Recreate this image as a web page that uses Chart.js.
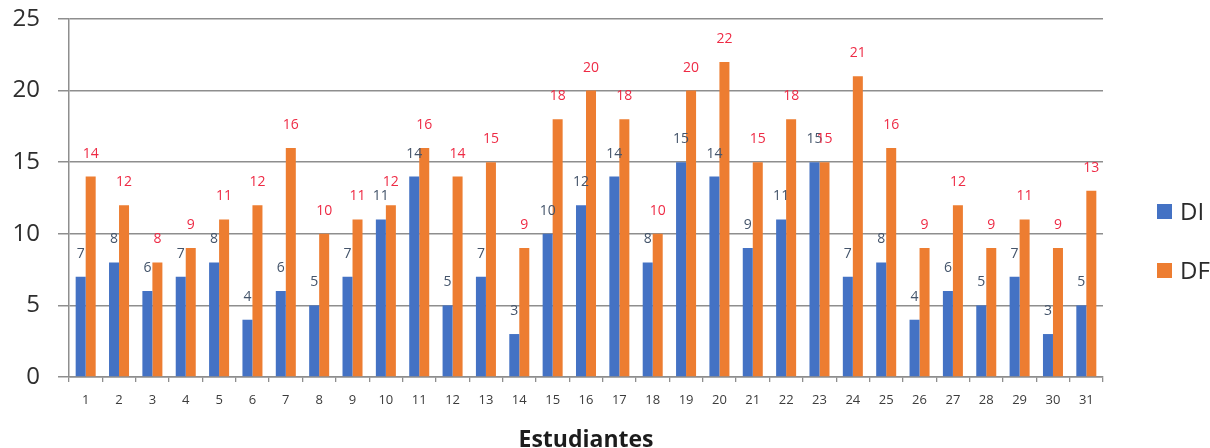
<!DOCTYPE html>
<html>
<head>
<meta charset="utf-8">
<script src="https://cdn.jsdelivr.net/npm/chart.js@4/dist/chart.umd.min.js"></script>
<style>
  html, body { margin: 0; padding: 0; background: #ffffff; }
  #wrap { width: 1210px; height: 448px; }
</style>
</head>
<body>
<div id="wrap"><canvas id="chart" width="1210" height="448"></canvas></div>
<script>
// Students (x-axis categories)
const students = ['1','2','3','4','5','6','7','8','9','10','11','12','13','14','15','16',
                  '17','18','19','20','21','22','23','24','25','26','27','28','29','30','31'];

// DI and DF scores per student
const diValues = [7, 8, 6, 7, 8, 4, 6, 5, 7, 11, 14, 5, 7, 3, 10, 12, 14, 8, 15, 14, 9, 11, 15, 7, 8, 4, 6, 5, 7, 3, 5];
const dfValues = [14, 12, 8, 9, 11, 12, 16, 10, 11, 12, 16, 14, 15, 9, 18, 20, 18, 10, 20, 22, 15, 18, 15, 21, 16, 9, 12, 9, 11, 9, 13];

// Value axis ticks
const yTicks = [0, 5, 10, 15, 20, 25];

const FONT = "'Open Sans', 'DejaVu Sans', sans-serif";
const GRID = '#8e8e8e';

// Value labels above each bar, coloured per series
const barValueLabels = {
  id: 'barValueLabels',
  afterDatasetsDraw(chart) {
    const ctx = chart.ctx;
    ctx.save();
    ctx.font = '14px ' + FONT;
    ctx.textAlign = 'center';
    ctx.textBaseline = 'middle';
    chart.data.datasets.forEach((ds, i) => {
      const meta = chart.getDatasetMeta(i);
      ctx.fillStyle = ds.labelColor;
      meta.data.forEach((bar, j) => {
        ctx.fillText(String(ds.data[j]), bar.x, bar.y - 23);
      });
    });
    ctx.restore();
  }
};

// Legend on the right: coloured square + series name
const sideLegend = {
  id: 'sideLegend',
  afterDraw(chart) {
    const ctx = chart.ctx;
    ctx.save();
    ctx.font = '24px ' + FONT;
    ctx.textAlign = 'left';
    ctx.textBaseline = 'middle';
    const rows = [211, 270];
    chart.data.datasets.forEach((ds, i) => {
      const cy = rows[i];
      ctx.fillStyle = ds.backgroundColor;
      ctx.fillRect(1157, cy - 7, 15, 15);
      ctx.fillStyle = '#2a2a2a';
      ctx.fillText(ds.label, 1180, cy + 2);
    });
    ctx.restore();
  }
};

new Chart(document.getElementById('chart'), {
  type: 'bar',
  data: {
    labels: students,
    datasets: [
      { label: 'DI', data: diValues, backgroundColor: '#4472C4', labelColor: '#44546A',
        categoryPercentage: 0.6, barPercentage: 1.0 },
      { label: 'DF', data: dfValues, backgroundColor: '#ED7D31', labelColor: '#EE2B45',
        categoryPercentage: 0.6, barPercentage: 1.0 }
    ]
  },
  options: {
    responsive: false,
    animation: false,
    devicePixelRatio: 1,
    layout: { padding: { top: 19, right: 107, left: 0, bottom: -6 } },
    plugins: {
      legend: { display: false },
      tooltip: { enabled: false }
    },
    scales: {
      x: {
        afterFit(scale) { scale.height = 77; scale.paddingLeft = 0; scale.paddingRight = 0; },
        grid: { offset: true, drawOnChartArea: false, drawTicks: true, tickLength: 5, color: GRID, lineWidth: 1.3 },
        border: { display: true, color: GRID, width: 1.5 },
        ticks: { color: '#3c3c3c', font: { family: FONT, size: 13 }, padding: 10 },
        title: {
          display: true, text: 'Estudiantes', color: '#1c1c1c',
          font: { family: FONT, size: 23, weight: 'bold' }, padding: { top: 0, bottom: 0 }
        }
      },
      y: {
        min: 0, max: 25,
        afterFit(scale) { scale.width = 69; scale.paddingTop = 0; scale.paddingBottom = 0; },
        afterBuildTicks(scale) { scale.ticks = yTicks.map(v => ({ value: v })); },
        grid: { color: GRID, lineWidth: 1.5, tickLength: 11, drawTicks: true },
        border: { display: true, color: GRID, width: 1.5 },
        ticks: { color: '#2e2e2e', font: { family: FONT, size: 24 }, padding: 18 }
      }
    }
  },
  plugins: [barValueLabels, sideLegend]
});
</script>
</body>
</html>
